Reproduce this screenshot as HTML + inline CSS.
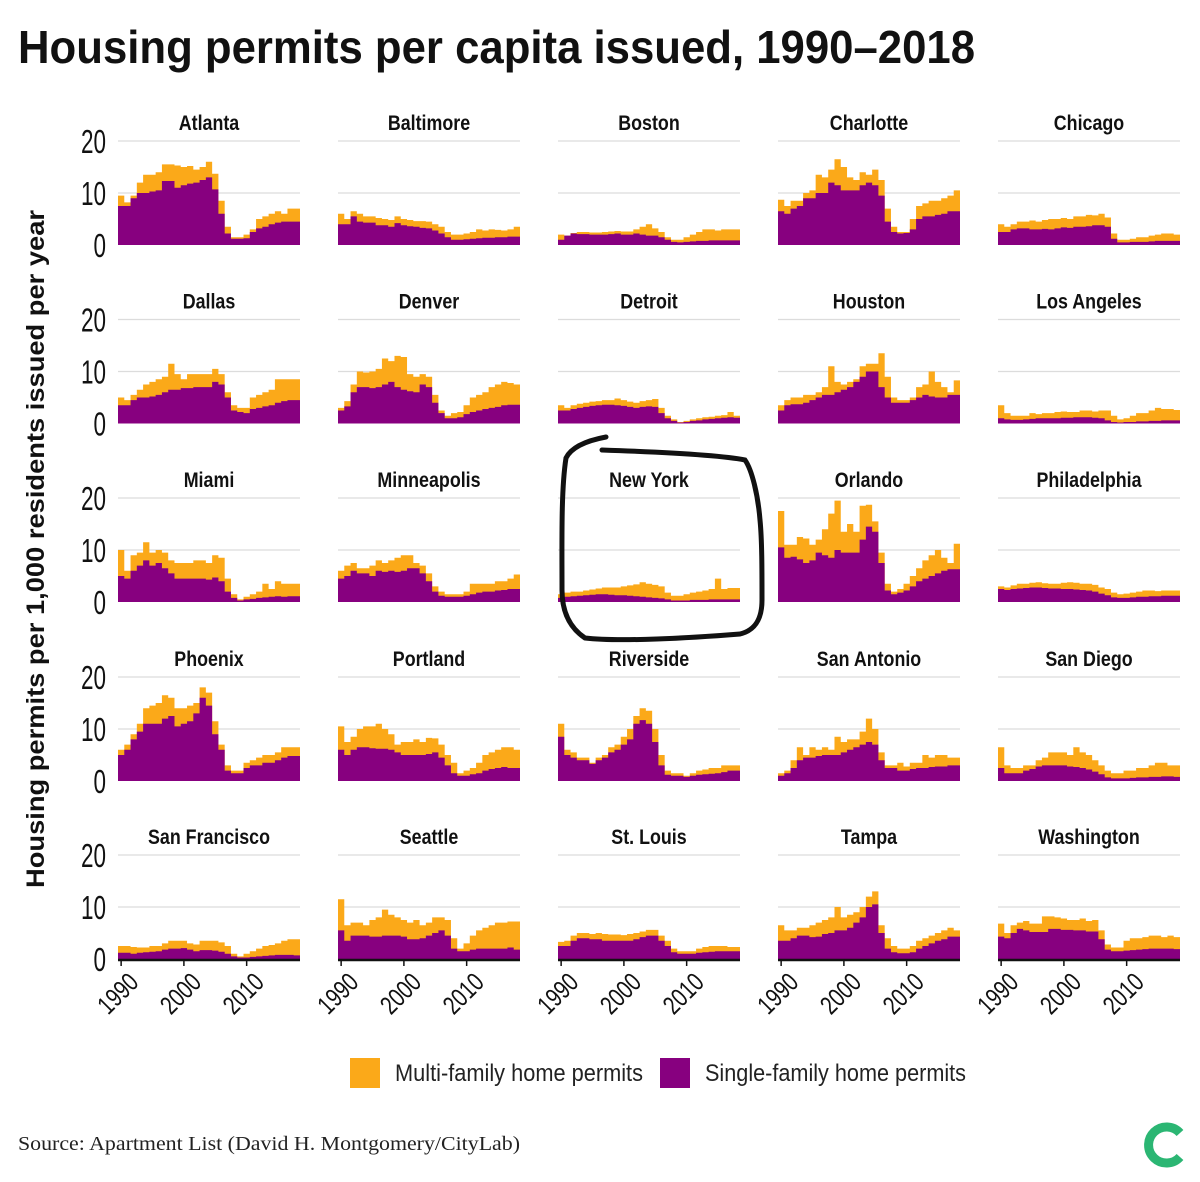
<!DOCTYPE html>
<html><head><meta charset="utf-8">
<style>
html,body{margin:0;padding:0;background:#fff;}
svg{display:block;}
text{font-family:"Liberation Sans Narrow","Liberation Sans",sans-serif;}
</style></head>
<body>
<svg id="chart" width="1200" height="1182" viewBox="0 0 1200 1182" xmlns="http://www.w3.org/2000/svg">
<text x="18" y="63" font-size="46" font-weight="bold" textLength="957" lengthAdjust="spacingAndGlyphs" fill="#111">Housing permits per capita issued, 1990–2018</text>
<text transform="translate(44,549) rotate(-90)" text-anchor="middle" font-size="25" font-weight="bold" textLength="678" lengthAdjust="spacingAndGlyphs" fill="#111">Housing permits per 1,000 residents issued per year</text>
<g id="panels"></g>
<path d="M606,437 C590,440 572,446 566,458 C561,490 562,540 562,590 C562,612 570,628 585,638 C620,642 690,638 740,634 C756,630 762,618 762,600 C762,570 762,540 760,520 C758,495 752,470 745,460 C720,455 660,452 602,450" fill="none" stroke="#111" stroke-width="5" stroke-linecap="round"/>
<g>
<rect x="350" y="1058" width="30" height="30" fill="#FBA919"/>
<text x="395" y="1081" font-size="24" textLength="248" lengthAdjust="spacingAndGlyphs" fill="#222">Multi-family home permits</text>
<rect x="660" y="1058" width="30" height="30" fill="#87007F"/>
<text x="705" y="1081" font-size="24" textLength="261" lengthAdjust="spacingAndGlyphs" fill="#222">Single-family home permits</text>
</g>
<text x="18" y="1150" font-size="20" textLength="502" lengthAdjust="spacingAndGlyphs" fill="#222" style="font-family:'Liberation Serif',serif">Source: Apartment List (David H. Montgomery/CityLab)</text>
<g>
<path d="M1180,1133 A18,18 0 1 0 1180,1157" fill="none" stroke="#2BB673" stroke-width="9"/>
</g>
</svg>
<script>
const cities = ["Atlanta","Baltimore","Boston","Charlotte","Chicago","Dallas","Denver","Detroit","Houston","Los Angeles","Miami","Minneapolis","New York","Orlando","Philadelphia","Phoenix","Portland","Riverside","San Antonio","San Diego","San Francisco","Seattle","St. Louis","Tampa","Washington"];
const startYear = 1990;
const yTicks = [0,10,20];
const xTicks = [1990,2000,2010];
const totalValues = [
[9.5,8.2,9.5,12,13.5,13.5,14,15.5,15.5,15.3,15,15.2,14.5,15,16,13.7,8.5,3.5,1.5,1.5,2,3,5,5.5,6,6.5,6,7,7],
[6,5,6.5,6,5.5,5.5,5.2,5,4.8,5.5,5,4.8,4.6,4.6,4.5,4,3.5,2.5,2,2,2.2,2.5,3,2.8,3,2.9,2.8,3,3.5],
[2,1.8,2.3,2.5,2.5,2.4,2.4,2.5,2.6,2.7,2.6,2.6,3,3.5,4,3.2,2.5,1.5,1,1,1.5,2,2.5,3,3,2.8,3,3,3],
[8.7,7.5,8.5,8.5,10,10.5,13.5,13,14.5,16.5,15,13,12.5,14,13.5,14.5,12.5,7,3.5,2.5,2.5,5,7.5,8,8.5,8.5,9,9.5,10.5],
[4,3.5,4,4.5,4.5,4.7,4.5,4.8,5,5,5.2,5,5.5,5.5,5.8,5.7,6,5.3,2.2,1,1,1.2,1.5,1.5,1.8,2,2.2,2.2,2],
[5,4.5,5.5,6.5,7.5,8,8.5,9,11.5,9.5,8.5,9.5,9.5,9.5,9.5,10.5,9.5,6,3.5,3,3,5,5.5,6,6.5,8.5,8.5,8.5,8.5],
[3,4.3,7.5,10,9.8,10,10.5,12.5,12,13,12.8,9.5,9,9.5,9,5.5,2.5,1.5,2,2.2,3.5,5,5.5,6,7,7.5,8,7.8,7.5],
[3.5,3,3.5,3.8,4,4.2,4.3,4.5,4.5,4.8,4.5,4.2,4,4.3,4.5,4.7,3,1.5,0.8,0.3,0.5,0.8,1,1.2,1.3,1.5,1.6,2.2,1.5],
[3.5,4.5,5,5,5.5,5.5,6,7,11,8,7.5,8,8.5,11,11.5,11.5,13.5,9,5,4.5,4.5,5,7,7.5,10,8,7,6,8.3],
[3.5,2,1.5,1.5,1.5,2,1.8,2,2,2.2,2.3,2.2,2.2,2.5,2.5,2.3,2.5,2.5,1.5,0.8,1,1.5,2,2,2.5,3,2.8,2.8,2.6],
[10,6,9,9.5,11.5,9.5,10,9.5,8,7.5,7.5,7.5,8,8,7.5,9,8.5,4.5,1.5,0.5,1,1.5,2,3.5,2.5,4,3.5,3.5,3.5],
[6,7,7.5,6.5,6.5,7,8,7.5,8,8.5,9,9,7.5,7,5.5,3,2,1.5,1.5,1.5,2,3.5,3.5,3.5,3.5,4,4,4.5,5.3],
[1.5,1.8,2,2,2.2,2.4,2.6,2.8,2.8,2.8,3,3.2,3.4,3.8,3.5,3.3,3,1.8,1.2,1.2,1.5,1.8,2,2.2,2.5,4.5,2.5,2.7,2.7],
[17.5,11,11,12.5,12.2,11,12,14,17,19.5,13.5,15,13.5,18.5,18.7,15.5,9.5,3.5,2,2.5,3.5,5,6.5,8,9,10,8.5,7.5,11.2],
[3,2.8,3.2,3.5,3.5,3.7,3.8,3.6,3.5,3.5,3.7,3.8,3.7,3.5,3.5,3.3,2.8,2.5,1.8,1.5,1.6,1.8,2,2.2,2.2,2.1,2.2,2.2,2.2],
[6,7,9,11,14,14.5,15,16.5,16,14,14,14.5,15,18,17,11.5,7,3,2,2,3.5,4,4.5,5,5,5.5,6.5,6.5,6.5],
[10.5,7.5,8.5,10,10.5,10.5,11,10,9,7,7.5,7.5,8,7.5,8.3,8.2,7,5,3.5,1.5,2,2.5,3.5,5,5.5,6,6.5,6.5,6],
[11,6,5.5,4.5,4.5,3.5,4.5,5,6.5,7,8.5,10,12.5,14,13.5,10,5,2,1.5,1.5,1,1.5,2,2.2,2.5,2.5,3,3,3],
[1.5,2,4,6.5,5,6.5,6,6.5,6,8.5,7.5,8,8,9.5,12,10,5.5,3,3,3.5,2.8,3.5,3.5,5,4.5,5,5,4.5,4.5],
[6.5,3,2.5,2.5,3,3,4,4.5,5.5,5.5,5.5,5,6.5,5.5,5,4,3,2,1.5,1.5,2,2,2.5,2.5,3,3.5,3.5,3,3],
[2.5,2.5,2.3,2.2,2.2,2.5,2.5,3,3.5,3.5,3.5,3,2.8,3.5,3.5,3.5,3.2,2.5,1,0.5,1,1.5,2,2.5,2.7,3,3.5,3.8,3.8],
[11.5,6.5,7,7,6.5,7.5,8,9.5,8.5,8,7.5,7,7.5,6.5,7,8,8,7.5,4,2,3,4.5,5.5,6,6.5,7,7,7.2,7.2],
[3.3,3.5,4.5,5,5,4.8,5,4.8,4.7,4.7,4.6,4.8,5,5.3,5.6,5.6,4.5,3.5,2,1.5,1.5,1.5,2,2.3,2.5,2.5,2.5,2.3,2.3],
[6.5,5.5,5.5,6,6,6.5,7,7.5,8,10,8,8.5,9,10,12,13,6.5,4,2.5,2,2,2.5,3.5,4,4.5,5,5.5,6,5.5],
[6.8,5,6.5,7,7.3,6.8,6.8,8.2,8.2,8,7.8,7.5,7.5,7.8,7.3,7.5,5.5,2.8,2.2,2.2,3.5,4,4,4.2,4.5,4.5,4.2,4.5,4.2]
];
const singleValues = [
[7.5,7.5,9,10,10,10.3,10.5,12.3,12.3,11,11.5,11.8,12,12.5,13,10.7,6,2.2,1.2,1.2,1.3,2.5,3.2,3.5,4,4.3,4.5,4.5,4.5],
[4,4,5.5,4.5,4.3,4.3,3.8,3.8,3.5,4.2,3.8,3.6,3.5,3.3,3.2,2.8,2.2,1.5,1,1,1.1,1.2,1.3,1.4,1.4,1.5,1.5,1.6,1.6],
[1,1.8,2.2,2.1,2.1,2,2,2,2.1,2.2,2,2,2.2,2,1.8,1.8,1.5,1,0.6,0.5,0.6,0.7,0.8,0.8,0.9,0.9,0.9,0.9,0.9],
[6.5,6,7,7.5,9,9,10,10,12,11.5,10.5,10.5,10.5,11.5,12,11.5,9.5,4.5,2.5,2.2,2.3,3,5,5.5,5.5,5.8,6,6.5,6.5],
[2.5,2.5,3,3.2,3.2,3,3,3.1,3,3.2,3.4,3.3,3.5,3.5,3.6,3.8,3.8,3.5,1.2,0.5,0.5,0.6,0.6,0.6,0.7,0.8,0.8,0.8,0.8],
[3.5,3.5,4.5,5,5,5.2,5.5,6,6.5,6.5,6.8,6.8,7,7,7,8,7.5,5,2.5,2.2,2,2.8,3,3.3,3.5,4,4.3,4.5,4.5],
[2.5,3.3,6,7,7,6.8,7,7.5,8,7,6.5,6.2,6,7.5,7,4,2,1,1,1.2,1.8,2.2,2.5,2.8,3,3.2,3.5,3.6,3.6],
[2.5,2.5,2.8,3,3.2,3.4,3.5,3.6,3.6,3.5,3.4,3.2,3,3.2,3.3,3.2,2,1,0.5,0.2,0.3,0.5,0.6,0.8,0.9,1,1.1,1.2,1.1],
[2.5,3.5,3.7,3.7,4,4.5,5,5.5,5.5,6,6.5,7,8,9,10,10,7,5,4,4,4,4.5,5,5.5,5.2,5,5,5.5,5.5],
[1,0.8,0.7,0.7,0.8,0.9,1,1,1,1,1.1,1.1,1.2,1.2,1.2,1.1,1,0.6,0.3,0.2,0.3,0.3,0.4,0.4,0.5,0.5,0.6,0.6,0.6],
[5,4.5,6,7,8,7,7.5,6.5,5.5,4.5,4.5,4.5,4.5,4.5,4.3,4.7,4,2,0.8,0.3,0.5,0.6,0.8,0.9,1,1.1,1,1.1,1.1],
[4.5,5,6,5.5,5.5,5,6,5.8,6,5.8,6,6.5,6.5,5.5,4,2,1.2,1,1,1,1.2,1.5,1.8,2,2,2.2,2.3,2.5,2.5],
[0.8,1,1.1,1.2,1.3,1.4,1.5,1.5,1.4,1.3,1.3,1.2,1.1,1,0.9,0.8,0.7,0.5,0.3,0.3,0.3,0.4,0.4,0.4,0.5,0.5,0.5,0.5,0.5],
[10.5,8.5,8.7,8.2,7.5,8,9.5,9,8.5,10,9.5,9.5,9.5,12,14.5,13.5,7.5,2.2,1.5,1.8,2.2,3,4,4.5,5,5.5,6,6.3,6.3],
[2.5,2.3,2.5,2.6,2.7,2.8,2.8,2.7,2.6,2.6,2.5,2.5,2.4,2.3,2.2,2,1.6,1.3,0.9,0.8,0.8,0.9,1,1,1.1,1.1,1.2,1.2,1.2],
[5,6,8,9.5,11,11,11,12,12.5,10.5,11,11.5,13,16,14.5,9,6,2,1.5,1.5,2.5,3,3,3.5,3.5,4,4.5,4.8,4.8],
[6,5,6,6.5,6.5,6.3,6.2,6.2,6,5.5,5,5,5,5,5.2,5.5,4.5,3,1.5,1,1,1.3,1.5,2,2.3,2.5,2.7,2.5,2.5],
[8.5,5,4.5,4,4,3.3,4,4.5,5.5,6,7,8,11,11.7,11,7.5,3,1.2,1,1,0.8,1,1.2,1.3,1.4,1.5,1.7,2,2],
[1,1.5,2.5,4,4.5,4.5,4.8,5,5,5,5.5,6,6.5,7,7.5,7,4,2.5,2.5,2,2,2.3,2.5,2.5,2.7,2.8,2.8,3,3],
[2.5,1.5,1.5,1.5,2,2.3,2.8,3,3,3,3,2.8,2.7,2.5,2.2,1.8,1.3,0.7,0.5,0.5,0.5,0.6,0.7,0.7,0.8,0.8,0.9,0.9,0.8],
[1.2,1.2,1,1.2,1.3,1.4,1.5,1.8,2,2,2.1,1.8,1.5,1.7,1.7,1.6,1.4,1,0.5,0.3,0.3,0.4,0.5,0.6,0.7,0.8,0.8,0.8,0.7],
[5.5,3.5,4.5,4.5,4.5,4.3,4.3,4.5,4.5,4.5,4.3,3.8,3.8,4,4.5,5,5.5,4.5,2,1.5,1.5,1.8,2,2,2,2,2,2.2,1.8],
[2.5,2.5,3.5,4,4,3.8,3.8,3.5,3.5,3.5,3.5,3.5,3.8,4.2,4.5,4.5,3.5,2.5,1.3,1,1,1,1.2,1.3,1.4,1.5,1.5,1.5,1.5],
[3.5,3.5,4,4.5,4.5,4.2,4.3,4.8,5,5.5,5.5,6,7,8,10,10.5,5,2,1.3,1.1,1.1,1.3,2,2.5,3,3.5,3.8,4.3,4.3],
[4.3,4,5,5.8,5.5,5.2,5.2,5.2,5.8,5.8,5.6,5.6,5.5,5.5,5.3,5.3,3.8,1.8,1.5,1.5,1.6,1.7,1.8,1.9,2,2,2,2,1.9]
];

const NS = "http://www.w3.org/2000/svg";
const root = document.getElementById('panels');
const PW = 182, COLSTEP = 220, X0 = 118, ROWB = [245,423.5,602,781,959], PXU = 5.2;
function mk(tag, attrs){const e=document.createElementNS(NS,tag);for(const k in attrs)e.setAttribute(k,attrs[k]);return e;}
function condense(el, f){
  const L = el.getComputedTextLength();
  if (L > 0) { el.setAttribute('textLength', (L * f).toFixed(1)); el.setAttribute('lengthAdjust', 'spacingAndGlyphs'); }
}
function xScale(year){return (year - startYear + 0.5);}

cities.forEach((city, ci) => {
  const col = ci % 5, row = Math.floor(ci / 5);
  const px = X0 + col * COLSTEP, base = ROWB[row];
  const n = totalValues[ci].length, bw = PW / n;
  const xs = i => px + i * bw;
  const ys = v => base - v * PXU;
  const g = mk('g', {});
  
  
  root.appendChild(g);
  yTicks.forEach(t => {
    if (t === 0) return;
    const l = mk('line', {x1: px, x2: px + PW, y1: ys(t), y2: ys(t), stroke: '#dcdcdc', 'stroke-width': 1.3});
    
    
    g.appendChild(l);
  });
  const tt = mk('text', {x: px + PW / 2, y: base - 115, 'text-anchor': 'middle', 'font-size': 21, 'font-weight': 'bold', fill: '#111'});
  tt.textContent = city;
  
  
  g.appendChild(tt);
  condense(tt, 0.85);
  function stepPath(vals){
    let d = 'M' + xs(0) + ',' + base;
    vals.forEach((v, i) => { d += ' L' + xs(i) + ',' + ys(v) + ' L' + xs(i + 1) + ',' + ys(v); });
    d += ' L' + xs(n) + ',' + base + ' Z';
    return d;
  }
  const pt = mk('path', {d: stepPath(totalValues[ci]), fill: '#FBA919'});
  
  
  g.appendChild(pt);
  const ps = mk('path', {d: stepPath(singleValues[ci]), fill: '#87007F'});
  
  
  g.appendChild(ps);
  if (col === 0) {
    yTicks.forEach(t => {
      const yl = mk('text', {x: 106, y: ys(t) + 12, 'text-anchor': 'end', 'font-size': 33, fill: '#111'});
      yl.textContent = t;
      
      
      g.appendChild(yl);
      condense(yl, 0.68);
    });
  }
  if (row === 4) {
    const ax = mk('line', {x1: px, x2: px + PW, y1: base + 1, y2: base + 1, stroke: '#111', 'stroke-width': 2.5});
    
    
    g.appendChild(ax);
    xTicks.forEach(yr => {
      const tx = px + xScale(yr) * bw;
      const tk = mk('line', {x1: tx, x2: tx, y1: base, y2: base + 7, stroke: '#111', 'stroke-width': 1.5});
      
      
      g.appendChild(tk);
      const lb = mk('text', {transform: 'translate(' + (tx + 6) + ',' + (base + 12) + ') rotate(-45)', 'text-anchor': 'end', 'font-size': 26, fill: '#111', dy: '0.7em'});
      lb.textContent = yr;
      
      
      g.appendChild(lb);
      condense(lb, 0.78);
    });
  }
});
</script>
</body></html>
